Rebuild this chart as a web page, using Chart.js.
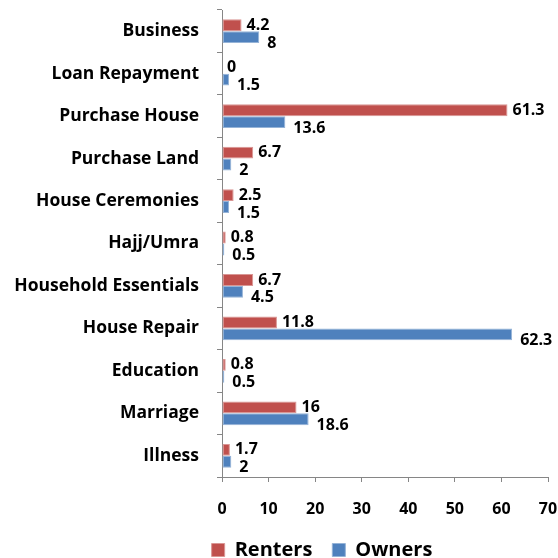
<!DOCTYPE html>
<html>
<head>
<meta charset="utf-8">
<script src="https://cdn.jsdelivr.net/npm/chart.js@4/dist/chart.umd.min.js"></script>
<style>
  html, body { margin: 0; padding: 0; background: #fff; }
  #wrap { width: 558px; height: 558px; position: relative; }
</style>
</head>
<body>
<div id="wrap"><canvas id="chart"></canvas></div>
<script>
// data
const categories = ['Business', 'Loan Repayment', 'Purchase House', 'Purchase Land', 'House Ceremonies',
    'Hajj/Umra', 'Household Essentials', 'House Repair', 'Education', 'Marriage', 'Illness'];
const renters = [4.2, 0, 61.3, 6.7, 2.5, 0.8, 6.7, 11.8, 0.8, 16, 1.7];
const owners = [8, 1.5, 13.6, 2, 1.5, 0.5, 4.5, 62.3, 0.5, 18.6, 2];
const xTicks = [0, 10, 20, 30, 40, 50, 60, 70];

const FONT = '"Open Sans", Lato, sans-serif';

// value labels at the bar ends (no datalabels plugin available offline)
// plus a couple of legend tweaks
const valueLabels = {
    id: 'valueLabels',
    beforeInit(chart) {
        const legend = chart.legend;
        // pin the legend height so the plot area lands where it should
        const fit = legend.fit;
        legend.fit = function () {
            fit.call(this);
            this.height = 41;
        };
        // the original legend sits right of centre
        const draw = legend.draw;
        legend.draw = function () {
            this.ctx.save();
            this.ctx.translate(48, 3);
            draw.call(this);
            this.ctx.restore();
        };
    },
    afterDatasetsDraw(chart) {
        const ctx = chart.ctx;
        ctx.save();
        ctx.font = 'bold 16px ' + FONT;
        ctx.fillStyle = '#000';
        ctx.textAlign = 'left';
        ctx.textBaseline = 'middle';
        chart.data.datasets.forEach((ds, i) => {
            const meta = chart.getDatasetMeta(i);
            meta.data.forEach((bar, j) => {
                const dx = i === 0 ? 5 : 8;   // blue labels sit a bit further right
                const dy = i === 0 ? 0 : 6;   // ...and a bit lower, like Excel does
                ctx.fillText(String(ds.data[j]), bar.x + dx, bar.y + dy);
            });
        });
        ctx.restore();
    }
};

new Chart(document.getElementById('chart'), {
    type: 'bar',
    data: {
        labels: categories,
        datasets: [
            {
                label: 'Renters',
                data: renters,
                backgroundColor: '#C0504D',
                borderColor: '#D99694',
                borderWidth: 1,
                borderSkipped: false
            },
            {
                label: 'Owners',
                data: owners,
                backgroundColor: '#4F81BD',
                borderColor: '#95B3D7',
                borderWidth: 1,
                borderSkipped: false
            }
        ]
    },
    options: {
        indexAxis: 'y',
        responsive: true,
        maintainAspectRatio: false,
        animation: false,
        categoryPercentage: 0.56,
        barPercentage: 1.0,
        layout: { padding: { top: 10, right: 10, left: 0, bottom: 0 } },
        scales: {
            x: {
                min: 0,
                max: 70,
                afterBuildTicks: (scale) => {
                    scale.ticks = xTicks.map(v => ({ value: v }));
                },
                afterFit: (scale) => {
                    scale.height = 40;
                    scale.paddingLeft = 0;
                    scale.paddingRight = 0;
                },
                grid: {
                    drawOnChartArea: false,
                    drawTicks: true,
                    tickLength: 5,
                    color: '#868686'
                },
                border: { color: '#868686', width: 1 },
                ticks: {
                    padding: 18,
                    color: '#000',
                    font: { family: FONT, size: 16, weight: 'bold' }
                }
            },
            y: {
                afterFit: (scale) => {
                    scale.width = 222;
                    scale.paddingTop = 0;
                    scale.paddingBottom = 0;
                },
                grid: {
                    offset: true,
                    drawOnChartArea: false,
                    drawTicks: true,
                    tickLength: 5,
                    color: '#868686'
                },
                border: { color: '#868686', width: 1 },
                ticks: {
                    padding: 18,
                    color: '#000',
                    font: { family: FONT, size: 17.5, weight: 'bold' }
                }
            }
        },
        plugins: {
            legend: {
                position: 'bottom',
                labels: {
                    boxWidth: 13,
                    boxHeight: 13,
                    padding: 20,
                    color: '#000',
                    font: { family: FONT, size: 20, weight: 'bold' }
                }
            },
            tooltip: { enabled: false }
        }
    },
    plugins: [valueLabels]
});
</script>
</body>
</html>
